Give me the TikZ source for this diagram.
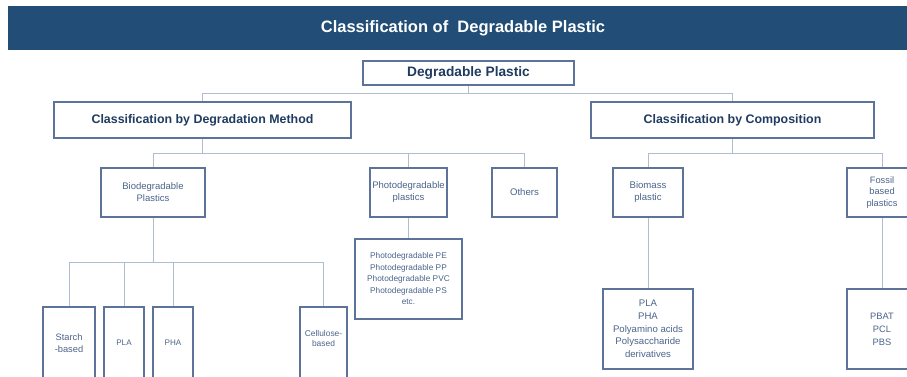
\documentclass[tikz,border=0pt]{standalone}
\usepackage{fontspec}
\setmainfont{Liberation Sans}
\definecolor{barblue}{HTML}{214D76}
\definecolor{boxline}{HTML}{5E7399}
\definecolor{linkline}{HTML}{AFBDD3}
\definecolor{headtext}{HTML}{1F3B60}
\definecolor{smalltext}{HTML}{4A638A}
\begin{document}
\begin{tikzpicture}[x=1pt,y=-1pt,
    box/.style={draw=boxline,line width=1.5pt,inner sep=0pt,align=center,text=smalltext},
    head/.style={box,text=headtext,font=\bfseries\fontsize{12.4}{15}\selectfont},
    link/.style={draw=linkline,line width=1pt}]
    \useasboundingbox (0,0) rectangle (907,376);
    \clip (0,0) rectangle (907,376);
    \node[fill=barblue,inner sep=0pt,minimum width=910pt,minimum height=44pt,text=white,font=\bfseries\fontsize{16.5}{20}\selectfont] (title) at (463,28) {Classification of\ \ Degradable Plastic};
    \node[head,minimum width=211pt,minimum height=24pt,font=\bfseries\fontsize{13.7}{16}\selectfont] (root) at (468.5,73) {Degradable Plastic};
    \node[head,minimum width=297pt,minimum height=36pt] (method) at (202.5,120) {Classification by Degradation Method};
    \node[head,minimum width=283pt,minimum height=36pt] (comp) at (732.5,120) {Classification by Composition};
    \node[box,minimum width=104pt,minimum height=49pt,font=\fontsize{9.5}{12}\selectfont] (bio) at (153,192.5) {Biodegradable\\Plastics};
    \node[box,minimum width=77pt,minimum height=49pt,font=\fontsize{9.5}{12}\selectfont] (photo) at (408.5,192.5) {Photodegradable\\plastics};
    \node[box,minimum width=65pt,minimum height=49pt,font=\fontsize{9.6}{12}\selectfont] (others) at (524.5,192.5) {Others};
    \node[box,minimum width=70pt,minimum height=49pt,font=\fontsize{9.6}{12}\selectfont] (biomass) at (648,192.5) {Biomass\\plastic};
    \node[box,minimum width=70pt,minimum height=49pt,font=\fontsize{9.3}{11.5}\selectfont] (fossil) at (882,192.5) {Fossil\\based\\plastics};
    \node[box,minimum width=52pt,minimum height=72pt,font=\fontsize{9.3}{11.5}\selectfont] (starch) at (69,343) {Starch\\-based};
    \node[box,minimum width=40pt,minimum height=72pt,font=\fontsize{8.1}{10}\selectfont] (pla) at (124,343) {PLA};
    \node[box,minimum width=40pt,minimum height=72pt,font=\fontsize{8.1}{10}\selectfont] (pha) at (173,343) {PHA};
    \node[box,minimum width=47pt,minimum height=72pt,font=\fontsize{8.4}{10}\selectfont] (cell) at (323.5,343) {Cellulose-\\based\\ };
    \node[box,minimum width=107pt,minimum height=80pt,font=\fontsize{8.3}{11.5}\selectfont] (plist) at (408.5,279) {Photodegradable PE\\Photodegradable PP\\Photodegradable PVC\\Photodegradable PS\\etc.};
    \node[box,minimum width=90pt,minimum height=80pt,font=\fontsize{9.6}{12.7}\selectfont] (blist) at (648,329) {PLA\\PHA\\Polyamino acids\\Polysaccharide\\derivatives};
    \node[box,minimum width=70pt,minimum height=80pt,font=\fontsize{9.3}{12.9}\selectfont] (flist) at (882,329) {PBAT\\PCL\\PBS};
    \draw[link] (root.south) -- ++(0,8) coordinate (rootbus) -| (method.north);
    \draw[link] (rootbus) -| (comp.north);
    \draw[link] (method.south) -- ++(0,15) coordinate (methodbus) -| (bio.north);
    \draw[link] (methodbus) -| (photo.north);
    \draw[link] (methodbus) -| (others.north);
    \draw[link] (comp.south) -- ++(0,15) coordinate (compbus) -| (biomass.north);
    \draw[link] (compbus) -| (fossil.north);
    \draw[link] (bio.south) -- ++(0,45) coordinate (biobus) -| (starch.north);
    \draw[link] (biobus) -| (pla.north);
    \draw[link] (biobus) -| (pha.north);
    \draw[link] (biobus) -| (cell.north);
    \draw[link] (photo.south) -- (plist.north);
    \draw[link] (biomass.south) -- (blist.north);
    \draw[link] (fossil.south) -- (flist.north);
\end{tikzpicture}
\end{document}
